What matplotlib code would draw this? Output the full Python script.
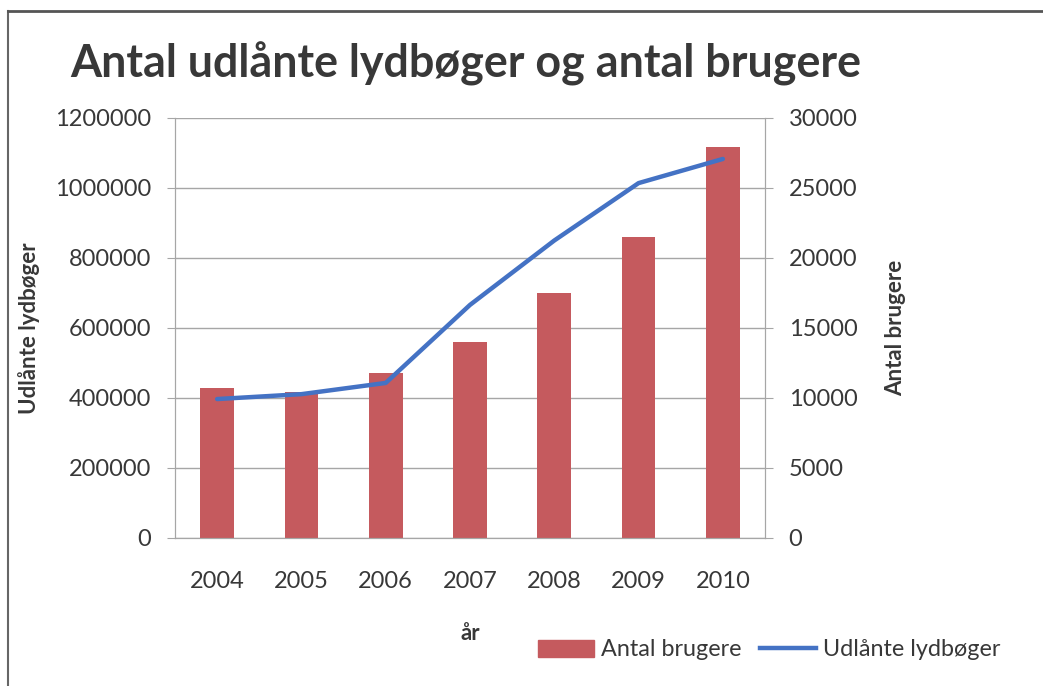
import matplotlib.pyplot as plt
from matplotlib.patches import Rectangle
from matplotlib.lines import Line2D
from matplotlib.ticker import FuncFormatter

# Data
aar = ["2004", "2005", "2006", "2007", "2008", "2009", "2010"]
antal_brugere = [10700, 10400, 11800, 14000, 17500, 21500, 27900]
udlaante_lydboeger = [397000, 411000, 443000, 666000, 850000, 1014000, 1083000]

plt.rcParams['font.family'] = ['Lato', 'DejaVu Sans']
TXT = "#383838"
GRID = "#a6a6a6"
BAR = "#c55a5e"
LINE = "#4472c4"

W, H = 1043, 686
fig = plt.figure(figsize=(W / 100, H / 100), dpi=100)

# outer frame (top and left edges visible in the scan)
fig.add_artist(Line2D([8 / W, 8 / W], [0, 1 - 11 / H], color="#666666", lw=1.5,
                      transform=fig.transFigure))
fig.add_artist(Line2D([8 / W, 1], [1 - 11 / H, 1 - 11 / H], color="#555555", lw=2,
                      transform=fig.transFigure))

ax = fig.add_axes([175 / W, 1 - 538 / H, 590 / W, 420 / H])
ax2 = ax.twinx()

x = list(range(len(aar)))

# bars on right axis, line on left axis (line drawn on top)
ax2.bar(x, antal_brugere, width=0.4, color=BAR, zorder=2)
ax2.set_ylim(0, 30000)
ax2.set_yticks(range(0, 30001, 5000))
ax2.grid(axis="y", color=GRID, lw=1)
ax2.set_axisbelow(True)

ax.set_zorder(ax2.get_zorder() + 1)
ax.patch.set_visible(False)
ax.plot(x, udlaante_lydboeger, color=LINE, lw=3.2, solid_capstyle="round", zorder=3)
ax.set_ylim(0, 1200000)
ax.set_yticks(range(0, 1200001, 200000))
ax.yaxis.set_major_formatter(FuncFormatter(lambda v, p: f"{int(v)}"))
ax.set_xlim(-0.5, len(aar) - 0.5)
ax.set_xticks(x)
ax.set_xticklabels(aar)

for a in (ax, ax2):
    for s in a.spines.values():
        s.set_color(GRID)
    a.spines["top"].set_visible(False)

ax.tick_params(axis="y", length=6, color=GRID, labelsize=17, labelcolor=TXT, pad=11)
ax2.tick_params(axis="y", length=6, color=GRID, labelsize=17, labelcolor=TXT, pad=11)
ax.tick_params(axis="x", length=0, labelsize=17, labelcolor=TXT, pad=24)

ax.set_ylabel("Udlånte lydbøger", fontsize=16, fontweight="bold", color=TXT, labelpad=11)
ax2.set_ylabel("Antal brugere", fontsize=16, fontweight="bold", color=TXT, labelpad=20)
ax.set_xlabel("år", fontsize=16, fontweight="bold", color=TXT, labelpad=22)

fig.text(70 / W, 1 - 78 / H, "Antal udlånte lydbøger og antal brugere",
         fontsize=32.3, fontweight="bold", color=TXT, va="baseline", ha="left")

handles = [Rectangle((0, 0), 1, 1, color=BAR), Line2D([], [], color=LINE, lw=3.2)]
fig.legend(handles, ["Antal brugere", "Udlånte lydbøger"], loc="center left",
           bbox_to_anchor=(538 / W, 1 - 650 / H), ncol=2, frameon=False,
           fontsize=16.8, borderpad=0, borderaxespad=0, handlelength=2.4,
           handletextpad=0.3, columnspacing=0.8, labelcolor=TXT)

fig.savefig("out.png", dpi=100)
